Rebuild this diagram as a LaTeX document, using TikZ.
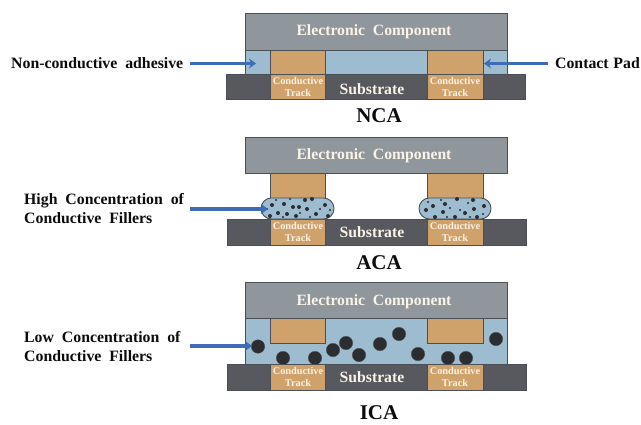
\documentclass[tikz,border=0pt]{standalone}
\usepackage{fontspec}
\setmainfont{Liberation Serif}
\usetikzlibrary{arrows.meta}
\definecolor{compgray}{HTML}{8F979C}
\definecolor{subgray}{HTML}{58585F}
\definecolor{padtan}{HTML}{CFA26B}
\definecolor{adhblue}{HTML}{9DBCD0}
\definecolor{edgegray}{HTML}{4A4F55}
\definecolor{arrowblue}{HTML}{3F6DB5}
\definecolor{dotblack}{HTML}{2C2D30}
\definecolor{inklabel}{HTML}{0C0C0C}
\definecolor{tracktxt}{HTML}{FAF3E6}
\tikzset{
  x=1pt,y=-1pt,
  block/.style={draw=edgegray,line width=0.9pt},
  comp/.style={block,fill=compgray},
  subst/.style={block,fill=subgray},
  pad/.style={block,fill=padtan},
  adh/.style={block,fill=adhblue},
  big/.style={circle,fill=dotblack,draw=edgegray,line width=0.3pt,minimum size=13.5pt,inner sep=0pt},
  small/.style={circle,fill=dotblack,minimum size=4pt,inner sep=0pt},
  tiny/.style={circle,fill=dotblack,minimum size=2.2pt,inner sep=0pt},
  lab/.style={font=\fontsize{15.8}{19}\selectfont\bfseries,text=inklabel,inner sep=0pt,align=left},
  title/.style={font=\fontsize{21}{23}\selectfont\bfseries,text=inklabel,inner sep=0pt},
  comptxt/.style={font=\fontsize{15.7}{17}\selectfont\bfseries,text=tracktxt,inner sep=0pt},
  subtxt/.style={font=\fontsize{15.7}{17}\selectfont\bfseries,text=tracktxt,inner sep=0pt},
  tracktext/.style={font=\fontsize{10.3}{12}\selectfont\bfseries,text=tracktxt,inner sep=0pt,align=center},
  pointer/.style={draw=arrowblue,line width=3.6pt,-{Stealth[length=7pt,width=10pt]}}
}
\newcommand{\wsp}{\spaceskip=0.5em\relax}
\begin{document}
\begin{tikzpicture}
\useasboundingbox (0,0) rectangle (641,424);
\fill[white] (0,0) rectangle (641,424);

% ---------- NCA ----------
\draw[block,fill=adhblue] (245,50) rectangle (507,74);
\draw[pad] (270,50) rectangle (325,74);
\draw[pad] (427,50) rectangle (483,74);
\draw[comp] (245,13) rectangle (507,50);
\draw[subst] (226,74) rectangle (525,99);
\draw[pad] (270,74) rectangle (325,99);
\draw[pad] (427,74) rectangle (483,99);
\node[comptxt] (c1) at (374,31.5) {\wsp Electronic Component};
\node[subtxt] (s1) at (372,89) {Substrate};
\node[tracktext] (t1a) at (298,86.5) {Conductive\\Track};
\node[tracktext] (t1b) at (455,86.5) {Conductive\\Track};
\node[title] (nca) at (379,116) {NCA};
\node[lab,anchor=west] (l1) at (11,63.5) {\wsp Non-conductive adhesive};
\node[lab,anchor=east] (l2) at (640,63.5) {\spaceskip=0.3em\relax Contact Pad};
\coordinate (a1s) at (190,63.5);
\coordinate (a1e) at (256,63.5);
\coordinate (a2s) at (548,63.5);
\coordinate (a2e) at (484,63.5);
\draw[pointer] (a1s) -- (a1e);
\draw[pointer] (a2s) -- (a2e);

% ---------- ACA ----------
\draw[comp] (245,137) rectangle (507,173.5);
\draw[pad] (270,173.5) rectangle (325,198);
\draw[pad] (427,173.5) rectangle (483,198);
\draw[subst] (227,219) rectangle (526,245);
\draw[pad] (270,219) rectangle (325,245);
\draw[pad] (427,219) rectangle (483,245);
\draw[block,fill=adhblue,rounded corners=10.4pt] (261,198) rectangle (334,219);
\draw[block,fill=adhblue,rounded corners=10.4pt] (419,198) rectangle (491,219);
\foreach \p in {(284,204),(278,213),(287,214),(307,209),(316,214),(299,207),(293,207),(305,200),(272,205),(325,205),(296,216),(312,199),(270,216),(328,216)}
  \node[small] at \p {};
\foreach \p in {(276,200),(290,199),(267,209),(300,213),(320,209),(330,210),(283,217),(310,217)}
  \node[tiny] at \p {};
\foreach \p in {(433,206),(445,204),(457,199),(473,200),(474,209),(443,212),(435,217),(455,217),(477,217),(484,206),(426,210),(465,213)}
  \node[small] at \p {};
\foreach \p in {(441,200),(450,208),(468,203),(428,202),(460,210),(483,214),(447,217),(470,217)}
  \node[tiny] at \p {};
\node[comptxt] (c2) at (374,155.5) {\wsp Electronic Component};
\node[subtxt] (s2) at (372,232) {Substrate};
\node[tracktext] (t2a) at (298,231.5) {Conductive\\Track};
\node[tracktext] (t2b) at (455,231.5) {Conductive\\Track};
\node[title] (aca) at (379,263) {ACA};
\node[lab,anchor=west] (l3) at (24,208.5) {\wsp High Concentration of\\\wsp Conductive Fillers};
\coordinate (a3s) at (190,209);
\coordinate (a3e) at (268,209);
\draw[pointer] (a3s) -- (a3e);

% ---------- ICA ----------
\draw[block,fill=adhblue] (245,318.5) rectangle (507,364);
\draw[pad] (270,318.5) rectangle (325,343);
\draw[pad] (427,318.5) rectangle (483,343);
\draw[comp] (245,282) rectangle (507,318.5);
\foreach \p in {(258,346.5),(283,358),(315,358),(333,350),(346,343),(359,355),(380,344),(399,334),(418,354),(448,358),(466,358),(496,339)}
  \node[big] at \p {};
\draw[subst] (227,364) rectangle (526,390);
\draw[pad] (270,364) rectangle (325,390);
\draw[pad] (427,364) rectangle (483,390);
\node[comptxt] (c3) at (374,302) {\wsp Electronic Component};
\node[subtxt] (s3) at (372,377) {Substrate};
\node[tracktext] (t3a) at (298,377) {Conductive\\Track};
\node[tracktext] (t3b) at (455,377) {Conductive\\Track};
\node[title] (ica) at (379,413) {ICA};
\node[lab,anchor=west] (l4) at (24,346.5) {\wsp Low Concentration of\\\wsp Conductive Fillers};
\coordinate (a4s) at (190,346);
\coordinate (a4e) at (252,346);
\draw[pointer] (a4s) -- (a4e);
\end{tikzpicture}
\end{document}
